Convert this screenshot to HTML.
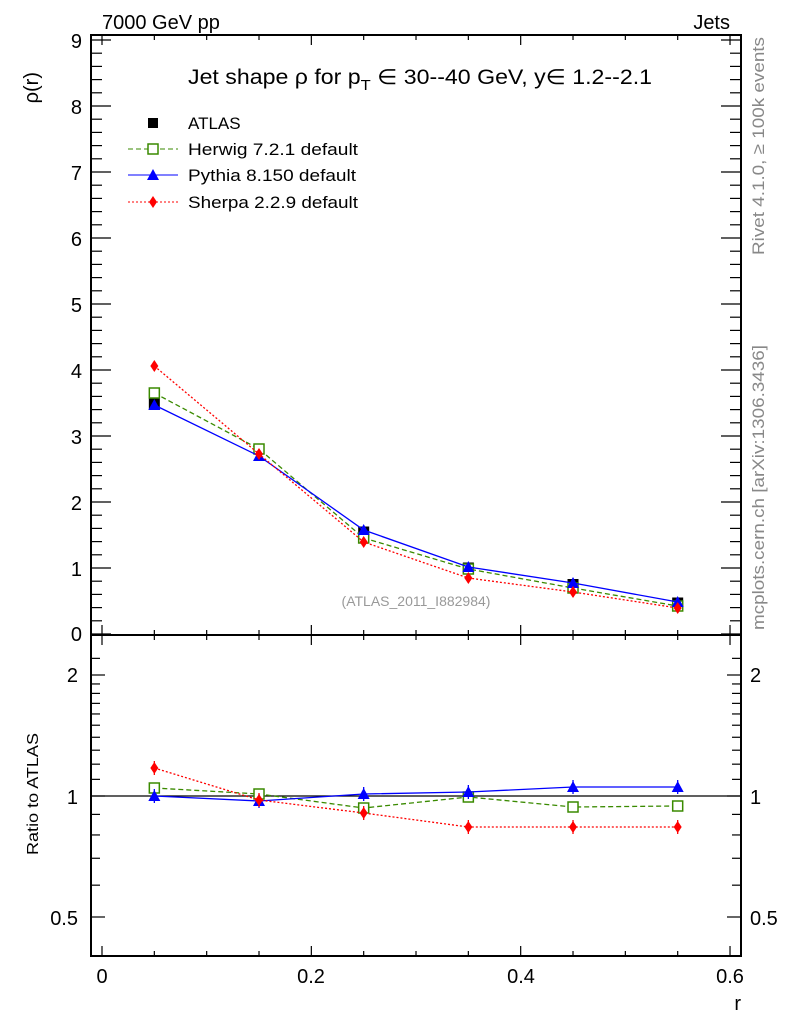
<!DOCTYPE html>
<html><head><meta charset="utf-8"><style>
body{margin:0;background:#fff;}
svg text{font-family:"Liberation Sans",sans-serif;}
</style></head><body>
<svg id="s" width="786" height="1024" xmlns="http://www.w3.org/2000/svg">
<rect x="91" y="35" width="650" height="600" fill="none" stroke="#000" stroke-width="2"/>
<rect x="91" y="635" width="650" height="321" fill="none" stroke="#000" stroke-width="2"/>
<g id="ticks" stroke="#000" stroke-width="1.2"></g>
<line x1="91" y1="796" x2="741" y2="796" stroke="#000" stroke-width="1.2"/>
<g font-size="20" fill="#000">
<text x="102" y="29">7000 GeV pp</text>
<text x="730" y="29" text-anchor="end">Jets</text>
<text x="82" y="48" text-anchor="end">9</text>
<text x="82" y="114" text-anchor="end">8</text>
<text x="82" y="180" text-anchor="end">7</text>
<text x="82" y="246" text-anchor="end">6</text>
<text x="82" y="312" text-anchor="end">5</text>
<text x="82" y="378" text-anchor="end">4</text>
<text x="82" y="444" text-anchor="end">3</text>
<text x="82" y="510" text-anchor="end">2</text>
<text x="82" y="576" text-anchor="end">1</text>
<text x="82" y="641" text-anchor="end">0</text>
<text x="78" y="682" text-anchor="end">2</text>
<text x="78" y="804" text-anchor="end">1</text>
<text x="78" y="925" text-anchor="end">0.5</text>
<text x="750" y="682">2</text>
<text x="750" y="804">1</text>
<text x="750" y="925">0.5</text>
<text x="102" y="983" text-anchor="middle">0</text>
<text x="311" y="983" text-anchor="middle">0.2</text>
<text x="521" y="983" text-anchor="middle">0.4</text>
<text x="730" y="983" text-anchor="middle">0.6</text>
<text x="741" y="1010" text-anchor="end">r</text>
<text transform="translate(38,72) rotate(-90)" text-anchor="end">ρ(r)</text>
</g>
<text x="188" y="84" font-size="21" textLength="464" lengthAdjust="spacingAndGlyphs">Jet shape ρ for p<tspan font-size="15" dy="6">T</tspan><tspan dy="-6"> ∈ 30--40 GeV, y∈ 1.2--2.1</tspan></text>
<text transform="translate(38,855) rotate(-90)" font-size="16" textLength="122" lengthAdjust="spacingAndGlyphs">Ratio to ATLAS</text>
<text x="416" y="606" font-size="14" fill="#999" text-anchor="middle">(ATLAS_2011_I882984)</text>
<text transform="translate(764,255) rotate(-90)" font-size="17" fill="#888" textLength="218" lengthAdjust="spacingAndGlyphs">Rivet 4.1.0, ≥ 100k events</text>
<text transform="translate(764,630) rotate(-90)" font-size="17" fill="#888" textLength="285" lengthAdjust="spacingAndGlyphs">mcplots.cern.ch [arXiv:1306.3436]</text>
<g font-size="17">
<rect x="148" y="118" width="10" height="10" fill="#000"/><text x="188" y="129">ATLAS</text>
<line x1="128" y1="149" x2="178" y2="149" stroke="#3a8a00" stroke-dasharray="5,3"/><rect x="148" y="144" width="10" height="10" fill="#fff" stroke="#3a8a00" stroke-width="1.5"/><text x="188" y="155" textLength="170" lengthAdjust="spacingAndGlyphs">Herwig 7.2.1 default</text>
<line x1="128" y1="175" x2="178" y2="175" stroke="#0000ff"/><polygon points="153,169 159,180 147,180" fill="#0000ff"/><text x="188" y="181" textLength="168" lengthAdjust="spacingAndGlyphs">Pythia 8.150 default</text>
<line x1="128" y1="202" x2="178" y2="202" stroke="#ff0000" stroke-dasharray="2,2"/><polygon points="153,196 157,202 153,208 149,202" fill="#ff0000"/><text x="188" y="208" textLength="170" lengthAdjust="spacingAndGlyphs">Sherpa 2.2.9 default</text>
</g>
<g id="data"></g>
</svg>
<script>
const NS="http://www.w3.org/2000/svg";
function el(p,t,a){const e=document.createElementNS(NS,t);for(const k in a)e.setAttribute(k,a[k]);p.appendChild(e);return e;}
const T=document.getElementById('ticks');
function ln(x1,y1,x2,y2){el(T,'line',{x1,y1,x2,y2});}
for(let v=0;v<=9.001;v+=0.2){const y=634-66*v;if(y<36)continue;const maj=Math.abs(v-Math.round(v))<1e-6;const L=maj?20:11;ln(91,y,91+L,y);ln(741,y,741-L,y);}
for(const v of [0.4,0.5,0.6,0.7,0.8,0.9,1,1.1,1.2,1.3,1.4,1.5,1.6,1.7,1.8,1.9,2,2.2]){const y=796-121*Math.log2(v);if(y<636||y>955)continue;const maj=(v==0.5||v==1||v==2);const L=maj?14:9;ln(91,y,91+L,y);ln(741,y,741-L,y);}
for(let i=0;i<=12;i++){const x=102+i*0.05*1046.7;const maj=i%4==0;const L=maj?10:5;ln(x,635,x,635-L);ln(x,35,x,35+L);ln(x,956,x,956-L);ln(x,635,x,635+L);}
const D=document.getElementById('data');
const xs=[0.05,0.15,0.25,0.35,0.45,0.55].map(r=>102+r*1046.7);
function series(ys,color,dash,marker,err,noline){
 if(!noline)el(D,'polyline',{points:xs.map((x,i)=>x+','+ys[i]).join(' '),fill:'none',stroke:color,'stroke-width':1.3,'stroke-dasharray':dash});
 xs.forEach((x,i)=>{const y=ys[i];
  if(err)el(D,'line',{x1:x,y1:y-err,x2:x,y2:y+err,stroke:color,'stroke-width':1.3});
  if(marker=='sq')el(D,'rect',{x:x-5.5,y:y-5.5,width:11,height:11,fill:color});
  if(marker=='osq')el(D,'rect',{x:x-5,y:y-5,width:10,height:10,fill:'#fff',stroke:color,'stroke-width':1.5});
  if(marker=='tri')el(D,'polygon',{points:`${x},${y-6} ${x+6},${y+5} ${x-6},${y+5}`,fill:color});
  if(marker=='dia')el(D,'polygon',{points:`${x},${y-6} ${x+4},${y} ${x},${y+6} ${x-4},${y}`,fill:color});
 });}
series([404,449,532,568,584.5,603],'#000','none','sq',0,true);
series([393,449,538,569,588,606],'#3a8a00','5,3','osq',0);
series([405,456,530,567,583,602],'#0000ff','none','tri',3);
series([366,454,542,578,592,608],'#ff0000','2,2','dia',5);
series([788,794,808,797,807,806],'#3a8a00','5,3','osq',0);
series([796,801,794,792,787,787],'#0000ff','none','tri',7);
series([768,800,813,827,827,827],'#ff0000','2,2','dia',7);
</script>
</body></html>
